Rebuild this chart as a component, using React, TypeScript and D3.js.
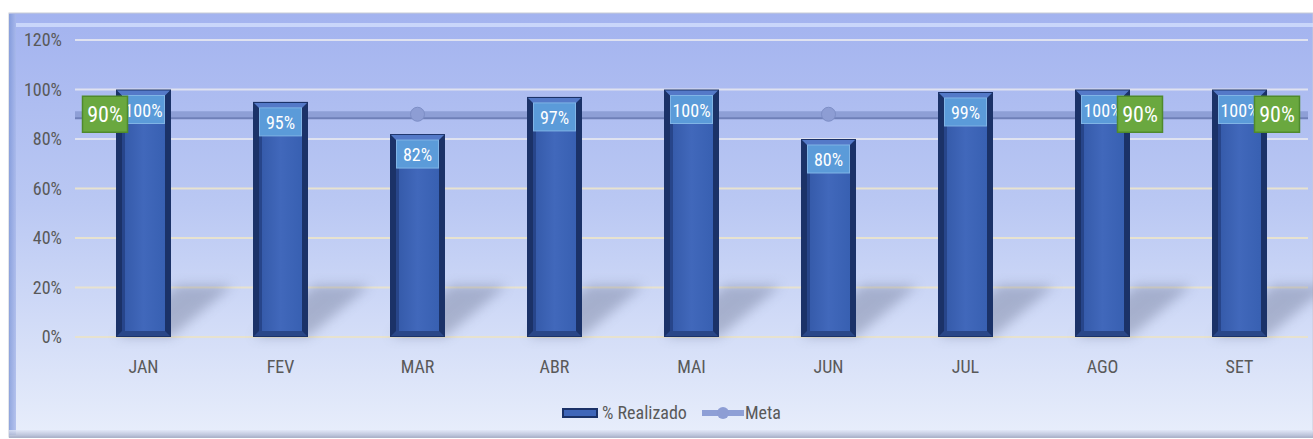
import React from "react";
import * as d3 from "d3";

const months = ["JAN", "FEV", "MAR", "ABR", "MAI", "JUN", "JUL", "AGO", "SET"];
const realizado = [100, 95, 82, 97, 100, 80, 99, 100, 100];
const meta = [90, 90, 90, 90, 90, 90, 90, 90, 90];
const yTicks = [0, 20, 40, 60, 80, 100, 120];
const metaLabelIdx = [0, 7, 8];

const W = 1313;
const H = 439;
const FONT = "'Liberation Sans Narrow', 'Arial Narrow', 'Roboto Condensed', 'Noto Sans', sans-serif";

export default function App() {
  const x = d3.scaleBand<string>().domain(months).range([75, 1308]).paddingInner(0.6).paddingOuter(0.3);
  const xc = d3.scalePoint<string>().domain(months).range([75, 1308]).padding(0.5);
  const y = d3.scaleLinear().domain([0, 120]).range([337, 40]);
  const bw = 55;
  const ext = d3.line<[number, number]>();
  const metaPath = ext([[75, y(90)], ...meta.map((d, i) => [xc(months[i])!, y(d)] as [number, number]), [1308, y(90)]]);

  return (
    <svg width={W} height={H} style={{ position: "absolute", left: 0, top: 0 }}>
      <defs>
        <linearGradient id="bg" x1="0" y1="0" x2="0" y2="1">
          <stop offset="0" stopColor="#a3b3ef" />
          <stop offset="0.45" stopColor="#bac8f3" />
          <stop offset="1" stopColor="#e8eefb" />
        </linearGradient>
        <linearGradient id="face" x1="0" y1="0" x2="1" y2="0">
          <stop offset="0" stopColor="#3459a8" />
          <stop offset="0.5" stopColor="#4168bb" />
          <stop offset="1" stopColor="#3860b2" />
        </linearGradient>
        <linearGradient id="leftbev" x1="0" y1="0" x2="1" y2="0">
          <stop offset="0" stopColor="#7d96d8" />
          <stop offset="1" stopColor="#a8b8ea" />
        </linearGradient>
        <linearGradient id="botbev" x1="0" y1="0" x2="0" y2="1">
          <stop offset="0" stopColor="#e0e6f6" />
          <stop offset="1" stopColor="#9aa3bf" />
        </linearGradient>
        <filter id="blur" x="-50%" y="-50%" width="200%" height="200%">
          <feGaussianBlur stdDeviation="6" />
        </filter>
      </defs>
      {/* panel */}
      <rect x={9} y={13} width={W - 9} height={H - 15} fill="url(#bg)" stroke="#c8cbd6" strokeWidth={1} />
      <rect x={9} y={14} width={7} height={H - 18} fill="url(#leftbev)" opacity={0.8} />
      <rect x={16} y={23} width={W - 16} height={4} fill="#d8e4ff" opacity={0.7} />
      <rect x={9} y={430} width={W - 9} height={8} fill="url(#botbev)" opacity={0.8} />

      {/* gridlines */}
      {yTicks.map((t) => (
        <line key={t} x1={75} x2={1308} y1={y(t)} y2={y(t)} stroke={t >= 80 ? "#dfe2f0" : "#e7e2cf"} strokeWidth={2} />
      ))}
      {yTicks.map((t) => (
        <text key={"l" + t} x={62} y={y(t) + 6} textAnchor="end" fontFamily={FONT} fontSize={18} fill="#595959">
          {t}%
        </text>
      ))}

      {/* shadows */}
      {realizado.map((v, i) => {
        const xl = x(months[i])! + (x.bandwidth() - bw) / 2;
        const xr = xl + bw;
        const b = y(0);
        const t = y(21);
        return (
          <polygon
            key={"s" + i}
            points={`${xl},${b} ${xl + 62},${t} ${xr + 62},${t} ${xr},${b}`}
            fill="#6a7390"
            opacity={0.4}
            filter="url(#blur)"
          />
        );
      })}

      {/* meta line */}
      <path d={metaPath ?? ""} fill="none" stroke="#6f80b8" strokeWidth={7} transform="translate(0,1.5)" />
      <path d={metaPath ?? ""} fill="none" stroke="#8e9fd6" strokeWidth={6} />
      {meta.map((d, i) => (
        <circle key={"m" + i} cx={xc(months[i])!} cy={y(d)} r={7} fill="#8d9dd4" stroke="#7d8ec6" strokeWidth={1} />
      ))}

      {/* bars */}
      {realizado.map((v, i) => {
        const xl = x(months[i])! + (x.bandwidth() - bw) / 2;
        const top = y(v);
        const b = y(0);
        return (
          <g key={"b" + i}>
            <rect x={xl} y={top} width={bw} height={b - top} fill="#1b3268" />
            <polygon points={`${xl + 1},${top + 1} ${xl + bw - 1},${top + 1} ${xl + bw - 6},${top + 6} ${xl + 6},${top + 6}`} fill="#5479c8" />
            <rect x={xl + 6} y={top + 6} width={bw - 12} height={b - top - 12} fill="url(#face)" />
            <rect x={xl + 6} y={top + 6} width={3} height={b - top - 12} fill="#27458a" />
            <polygon points={`${xl + 1},${b - 1} ${xl + bw - 1},${b - 1} ${xl + bw - 6},${b - 6} ${xl + 6},${b - 6}`} fill="#2a4788" />
          </g>
        );
      })}

      {/* data labels */}
      {realizado.map((v, i) => {
        const cx = xc(months[i])!;
        const top = y(v);
        const bx = cx - 21;
        return (
          <g key={"d" + i}>
            <rect x={bx} y={top + 6} width={42} height={28} fill="#5b9bd9" stroke="#80b4e6" strokeWidth={1} />
            <text x={cx} y={top + 27} textAnchor="middle" fontFamily={FONT} fontSize={18} fill="#ffffff">
              {v}%
            </text>
          </g>
        );
      })}

      {/* meta labels */}
      {metaLabelIdx.map((i) => {
        const cx = xc(months[i])!;
        const lx = i === 0 ? cx - 61 : cx + 15;
        const yy = y(meta[i]);
        return (
          <g key={"g" + i}>
            <rect x={lx} y={yy - 18} width={45} height={36} fill="#6aa83f" stroke="#4f8a2c" strokeWidth={1.5} />
            <text x={lx + 22.5} y={yy + 8} textAnchor="middle" fontFamily={FONT} fontSize={22} fill="#ffffff">
              {meta[i]}%
            </text>
          </g>
        );
      })}

      {/* x labels */}
      {months.map((m) => (
        <text key={m} x={xc(m)!} y={373} textAnchor="middle" fontFamily={FONT} fontSize={18} fill="#595959">
          {m}
        </text>
      ))}

      {/* legend */}
      <g>
        <rect x={562} y={408} width={36} height={10} fill="#1b3268" />
        <rect x={564} y={410} width={32} height={6} fill="#3f66b9" />
        <text x={602} y={419} fontFamily={FONT} fontSize={18} fill="#595959">% Realizado</text>
        <line x1={702} x2={744} y1={413} y2={413} stroke="#8e9fd6" strokeWidth={6} />
        <circle cx={723} cy={413} r={6} fill="#8d9dd4" />
        <text x={745} y={419} fontFamily={FONT} fontSize={18} fill="#595959">Meta</text>
      </g>
    </svg>
  );
}
